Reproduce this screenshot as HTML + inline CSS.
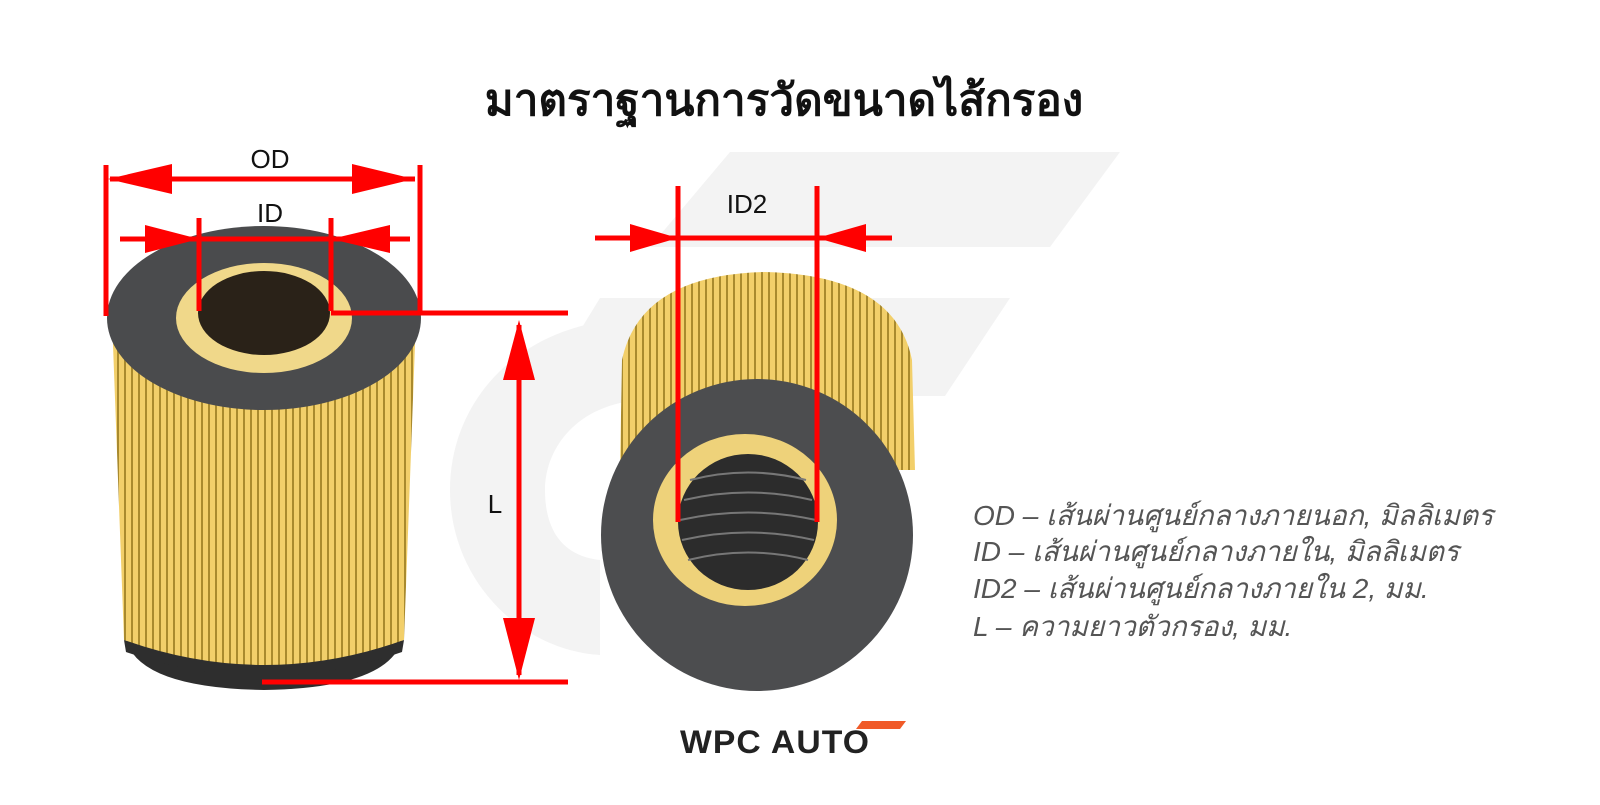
<!DOCTYPE html>
<html><head><meta charset="utf-8"><style>
body{margin:0;width:1600px;height:800px;background:#fff;overflow:hidden;font-family:"Liberation Sans",sans-serif}
</style></head><body>
<svg width="1600" height="800" viewBox="0 0 1600 800" xmlns="http://www.w3.org/2000/svg">
<defs>
<pattern id="pl" width="7" height="10" patternUnits="userSpaceOnUse"><rect width="7" height="10" fill="#f2cf6a"/><rect x="5" width="2" height="10" fill="#a98a2e"/></pattern>
</defs>
<!-- watermark -->
<polygon points="730,152 1120,152 1050,247 650,247" fill="#f3f3f3"/>
<polygon points="600,298 1010,298 945,396 540,396" fill="#f3f3f3"/>
<path d="M640,318 C520,320 450,400 450,490 C450,580 520,650 600,655 L600,560 C555,555 545,520 545,490 C545,450 575,405 640,400 Z" fill="#f3f3f3"/>
<text x="784" y="115" text-anchor="middle" font-size="44" font-weight="bold" fill="#111">มาตราฐานการวัดขนาดไส้กรอง</text>
<!-- left filter -->
<path d="M126,640 Q140,688 264,690 Q388,688 402,640 Z" fill="#2e2e2e"/>
<path d="M112,318 L124,640 Q264,690 404,640 L416,318 Z" fill="url(#pl)"/>
<path d="M124,640 Q264,692 404,640 L402,652 Q264,700 126,652 Z" fill="#2e2e2e"/>
<ellipse cx="264" cy="318" rx="157" ry="92" fill="#4a4b4d"/>
<ellipse cx="264" cy="318" rx="88" ry="55" fill="#f0d88a"/>
<ellipse cx="264" cy="313" rx="66" ry="42" fill="#2a2218"/>
<!-- right filter -->
<path d="M620,470 L622,360 Q640,275 765,272 Q895,275 912,360 L915,470 Z" fill="url(#pl)"/>
<circle cx="757" cy="535" r="156" fill="#4c4d4f"/>
<ellipse cx="745" cy="520" rx="92" ry="86" fill="#eed27a"/>
<ellipse cx="748" cy="522" rx="70" ry="68" fill="#2c2c2c"/>
<g stroke="#777" stroke-width="2" fill="none">
<path d="M690,480 Q748,465 806,480"/><path d="M684,500 Q748,485 812,500"/><path d="M680,520 Q748,505 816,520"/><path d="M682,540 Q748,525 814,540"/><path d="M688,560 Q748,545 808,560"/>
</g>
<!-- dimensions -->
<g stroke="#f00" stroke-width="5" fill="none">
<line x1="106" y1="165" x2="106" y2="316"/><line x1="420" y1="165" x2="420" y2="312"/>
<line x1="110" y1="179" x2="415" y2="179"/>
<line x1="199" y1="218" x2="199" y2="311"/><line x1="331" y1="218" x2="331" y2="311"/>
<line x1="120" y1="239" x2="410" y2="239"/>
<line x1="331" y1="313" x2="568" y2="313"/>
<line x1="519" y1="325" x2="519" y2="675"/>
<line x1="262" y1="682" x2="568" y2="682"/>
<line x1="678" y1="186" x2="678" y2="522"/><line x1="817" y1="186" x2="817" y2="522"/>
<line x1="595" y1="238" x2="892" y2="238"/>
</g>
<g fill="#f00">
<polygon points="108,179 172,164 172,194"/><polygon points="414,179 352,164 352,194"/>
<polygon points="199,239 145,225 145,253"/><polygon points="331,239 390,225 390,253"/>
<polygon points="519,320 503,380 535,380"/><polygon points="519,680 503,618 535,618"/>
<polygon points="678,238 630,224 630,252"/><polygon points="817,238 866,224 866,252"/>
</g>
<g font-size="26" fill="#111" text-anchor="middle">
<text x="270" y="168">OD</text><text x="270" y="222">ID</text><text x="747" y="213">ID2</text><text x="495" y="513">L</text>
</g>
<g font-size="28" font-style="italic" fill="#555">
<text x="973" y="525">OD – เส้นผ่านศูนย์กลางภายนอก, มิลลิเมตร</text>
<text x="973" y="561">ID – เส้นผ่านศูนย์กลางภายใน, มิลลิเมตร</text>
<text x="973" y="598">ID2 – เส้นผ่านศูนย์กลางภายใน 2, มม.</text>
<text x="973" y="636">L – ความยาวตัวกรอง, มม.</text>
</g>
<!-- logo -->
<text x="680" y="753" font-size="32" font-weight="bold" fill="#222" letter-spacing="1" textLength="190" lengthAdjust="spacingAndGlyphs">WPC AUTO</text>
<polygon points="862,721 906,721 900,729 856,729" fill="#f05a28"/>
</svg>
</body></html>
